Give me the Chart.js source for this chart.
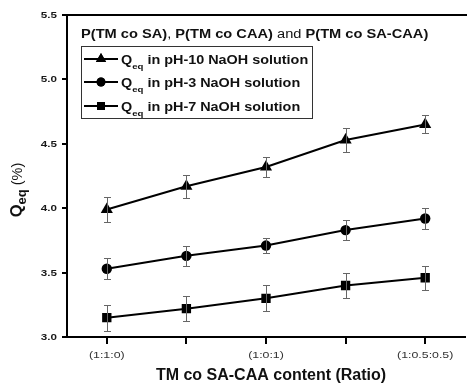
<!DOCTYPE html>
<html>
<head>
<meta charset="utf-8">
<script src="https://cdn.jsdelivr.net/npm/chart.js@4/dist/chart.umd.min.js"></script>
<style>
  html, body { margin: 0; padding: 0; background: #fff; overflow: hidden; }
  #wrap { width: 472px; height: 383px; }
</style>
</head>
<body>
<div id="wrap"><canvas id="chart" width="472" height="383"></canvas></div>
<script>
// categories and tick labels
const ratios = ["(1:1:0)", "r2", "(1:0:1)", "r4", "(1:0.5:0.5)"];
const tickLabels = ["(1:1:0)", "", "(1:0:1)", "", "(1:0.5:0.5)"];

// Qeq values (%)
const ph10 = [3.99, 4.17, 4.32, 4.53, 4.65];
const ph10Err = [0.10, 0.09, 0.08, 0.09, 0.07];
const ph3 = [3.53, 3.63, 3.71, 3.83, 3.92];
const ph3Err = [0.08, 0.08, 0.06, 0.08, 0.08];
const ph7 = [3.15, 3.22, 3.30, 3.40, 3.46];
const ph7Err = [0.10, 0.095, 0.10, 0.095, 0.095];

const FONT = "'Liberation Sans', Arial, sans-serif";

// text drawn wider than normal, like the source figure
function wideText(ctx, text, x, y, font, sx, align) {
  ctx.save();
  ctx.font = font;
  const w = ctx.measureText(text).width * sx;
  let x0 = x;
  if (align === "center") x0 = x - w / 2;
  if (align === "right") x0 = x - w;
  ctx.translate(x0, y);
  ctx.scale(sx, 1);
  ctx.textAlign = "left";
  ctx.fillText(text, 0, 0);
  ctx.restore();
  return w;
}

// error bars drawn through the chart scales
const errorBars = {
  id: "errorBars",
  afterDatasetsDraw(chart) {
    const ctx = chart.ctx;
    const x = chart.scales.x, y = chart.scales.y;
    ctx.save();
    ctx.strokeStyle = "#666";
    ctx.lineWidth = 1;
    chart.data.datasets.forEach(ds => {
      ds.values.forEach((v, i) => {
        const px = Math.round(x.getPixelForValue(i)) + 0.5;
        const top = Math.round(y.getPixelForValue(v + ds.err[i])) + 0.5;
        const bot = Math.round(y.getPixelForValue(v - ds.err[i])) + 0.5;
        ctx.beginPath();
        ctx.moveTo(px, top); ctx.lineTo(px, bot);
        ctx.moveTo(px - 3.5, top); ctx.lineTo(px + 3.5, top);
        ctx.moveTo(px - 3.5, bot); ctx.lineTo(px + 3.5, bot);
        ctx.stroke();
      });
    });
    ctx.restore();
  }
};

// frame top line, tick labels, axis titles, legend
const decor = {
  id: "decor",
  afterDraw(chart) {
    const ctx = chart.ctx;
    const a = chart.chartArea;
    const xs = chart.scales.x, ys = chart.scales.y;
    ctx.save();
    // top frame line
    ctx.strokeStyle = "#000";
    ctx.lineWidth = 2;
    ctx.beginPath();
    ctx.moveTo(a.left - 1, a.top);
    ctx.lineTo(a.right + 2, a.top);
    ctx.stroke();

    ctx.textBaseline = "alphabetic";

    // y tick labels
    ctx.fillStyle = "#1a1a1a";
    ys.ticks.forEach((t, i) => {
      const py = ys.getPixelForTick(i);
      wideText(ctx, t.value.toFixed(1), 57, py + 3, "bold 8.5px " + FONT, 1.37, "right");
    });
    // x tick labels
    ctx.fillStyle = "#333";
    xs.ticks.forEach((t, i) => {
      const px = xs.getPixelForTick(i);
      if (tickLabels[i]) wideText(ctx, tickLabels[i], px, 358, "9.5px " + FONT, 1.3, "center");
    });

    ctx.fillStyle = "#111";
    // x title
    ctx.font = "bold 16px " + FONT;
    ctx.textAlign = "center";
    ctx.fillText("TM co SA-CAA content (Ratio)", 271, 380);

    // y title, rotated
    ctx.save();
    ctx.translate(22, 190);
    ctx.rotate(-Math.PI / 2);
    ctx.textAlign = "left";
    ctx.font = "bold 16.5px " + FONT;
    const wQ = ctx.measureText("Q").width;
    ctx.font = "bold 13px " + FONT;
    const wEq = ctx.measureText("eq").width;
    ctx.font = "14.5px " + FONT;
    const wP = ctx.measureText(" (%)").width;
    let sx = -(wQ + wEq + wP) / 2;
    ctx.font = "bold 16.5px " + FONT;
    ctx.fillText("Q", sx, 0);
    sx += wQ;
    ctx.font = "bold 13px " + FONT;
    ctx.fillText("eq", sx, 4);
    sx += wEq;
    ctx.font = "14.5px " + FONT;
    ctx.fillText(" (%)", sx, 0);
    ctx.restore();

    // legend heading with mixed weights
    const parts = [
      ["P(TM co SA)", true], [", ", false], ["P(TM co CAA)", true],
      [" and ", false], ["P(TM co SA-CAA)", true]
    ];
    let hx = 81;
    parts.forEach(([t, b]) => {
      hx += wideText(ctx, t, hx, 38, (b ? "bold " : "") + "12px " + FONT, 1.22, "left");
    });

    // legend box
    ctx.strokeStyle = "#333";
    ctx.lineWidth = 1;
    ctx.strokeRect(81.5, 46.5, 231, 72);

    const rows = [59, 82, 106];
    const labels = [" in pH-10 NaOH solution", " in pH-3 NaOH solution", " in pH-7 NaOH solution"];
    chart.data.datasets.forEach((ds, i) => {
      const ry = rows[i];
      ctx.strokeStyle = "#000";
      ctx.lineWidth = 2;
      ctx.beginPath();
      ctx.moveTo(84, ry); ctx.lineTo(118, ry);
      ctx.stroke();
      ctx.fillStyle = "#000";
      Chart.helpers.drawPoint(ctx, {
        pointStyle: ds.pointStyle, radius: ds.pointRadius * 0.85, rotation: 0, borderWidth: 0
      }, 101, ry);
      ctx.fill();
      ctx.fillStyle = "#111";
      let tx = 121;
      tx += wideText(ctx, "Q", tx, ry + 4.5, "bold 12px " + FONT, 1.2, "left");
      tx += wideText(ctx, "eq", tx, ry + 10, "bold 8px " + FONT, 1.2, "left");
      wideText(ctx, labels[i], tx, ry + 4.5, "bold 12px " + FONT, 1.2, "left");
    });
    ctx.restore();
  }
};

const makeSet = (label, values, err, style, r) => ({
  label, data: values, values, err,
  borderColor: "#000", backgroundColor: "#000", borderWidth: 2,
  pointStyle: style, pointRadius: r, pointHoverRadius: r,
  pointBackgroundColor: "#000", pointBorderWidth: 0, tension: 0
});

new Chart(document.getElementById("chart"), {
  type: "line",
  data: {
    labels: ratios,
    datasets: [
      makeSet("pH-10", ph10, ph10Err, "triangle", 7),
      makeSet("pH-3", ph3, ph3Err, "circle", 5.2),
      makeSet("pH-7", ph7, ph7Err, "rect", 6.6)
    ]
  },
  options: {
    responsive: false,
    animation: false,
    events: [],
    layout: { padding: { top: 15, right: 2, left: 0, bottom: 0 } },
    plugins: { legend: { display: false }, tooltip: { enabled: false } },
    scales: {
      x: {
        offset: true,
        afterFit(s) { s.height = 46; },
        grid: { display: true, drawOnChartArea: false, drawTicks: true, tickLength: 7, color: "#000", lineWidth: 2 },
        border: { display: true, color: "#000", width: 2 },
        ticks: {
          autoSkip: false, maxRotation: 0, color: "rgba(0,0,0,0)",
          font: { family: FONT, size: 9 }
        }
      },
      y: {
        min: 3.0, max: 5.5,
        afterFit(s) { s.width = 67; },
        grid: { display: true, drawOnChartArea: false, drawTicks: true, tickLength: 5, color: "#000", lineWidth: 2 },
        border: { display: true, color: "#000", width: 2 },
        ticks: {
          stepSize: 0.5, color: "rgba(0,0,0,0)",
          font: { family: FONT, size: 9, weight: "bold" }
        }
      }
    }
  },
  plugins: [errorBars, decor]
});
</script>
</body>
</html>
